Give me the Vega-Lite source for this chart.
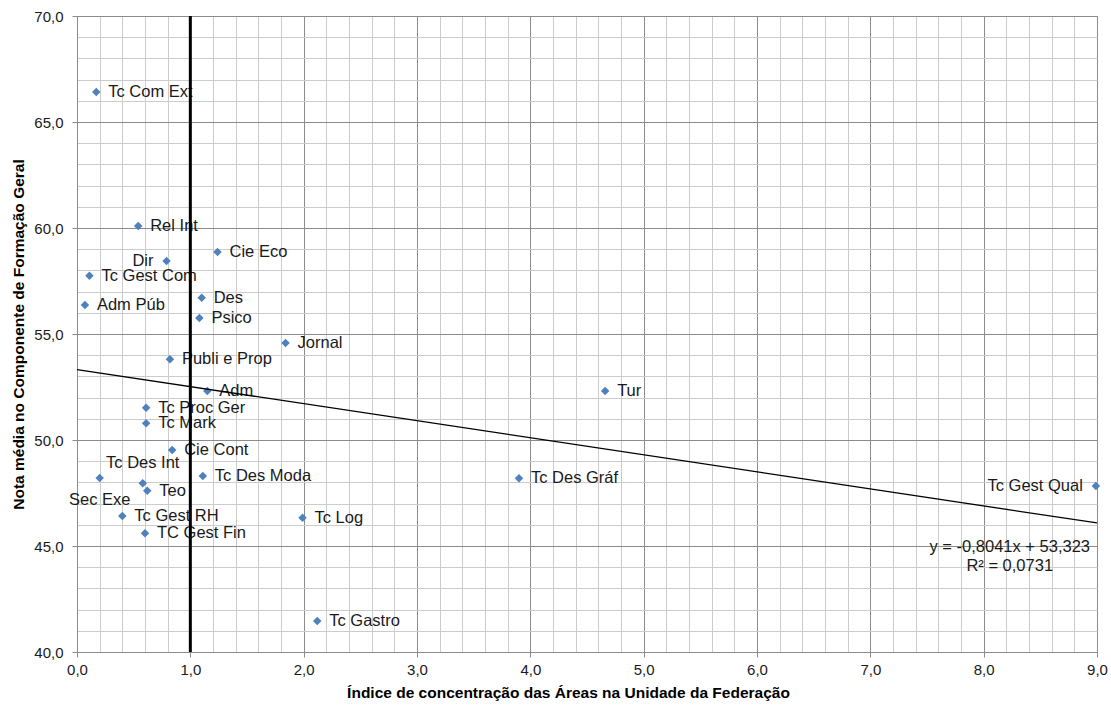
{
  "$schema": "https://vega.github.io/schema/vega-lite/v6.json",
  "width": 1020,
  "height": 636,
  "autosize": "none",
  "padding": {"left": 77, "top": 16, "right": 14, "bottom": 54},
  "background": "white",
  "config": {
    "view": {"stroke": "#8c8c8c"},
    "font": "Liberation Sans"
  },
  "datasets": {
    "pontos": [
      {"area": "Tc Com Ext", "indice": 0.17, "nota": 66.42},
      {"area": "Rel Int", "indice": 0.54, "nota": 60.09},
      {"area": "Cie Eco", "indice": 1.24, "nota": 58.87},
      {"area": "Dir", "indice": 0.79, "nota": 58.44},
      {"area": "Tc Gest Com", "indice": 0.11, "nota": 57.75},
      {"area": "Adm Púb", "indice": 0.07, "nota": 56.37},
      {"area": "Des", "indice": 1.10, "nota": 56.71},
      {"area": "Psico", "indice": 1.08, "nota": 55.75},
      {"area": "Jornal", "indice": 1.84, "nota": 54.58},
      {"area": "Publi e Prop", "indice": 0.82, "nota": 53.81},
      {"area": "Adm", "indice": 1.15, "nota": 52.31},
      {"area": "Tur", "indice": 4.66, "nota": 52.31},
      {"area": "Tc Proc Ger", "indice": 0.61, "nota": 51.52},
      {"area": "Tc Mark", "indice": 0.61, "nota": 50.79},
      {"area": "Cie Cont", "indice": 0.84, "nota": 49.53},
      {"area": "Sec Exe", "indice": 0.20, "nota": 48.21},
      {"area": "Tc Des Int", "indice": 0.58, "nota": 47.96},
      {"area": "Teo", "indice": 0.62, "nota": 47.61},
      {"area": "Tc Des Moda", "indice": 1.11, "nota": 48.30},
      {"area": "Tc Des Gráf", "indice": 3.90, "nota": 48.20},
      {"area": "Tc Gest Qual", "indice": 8.99, "nota": 47.83},
      {"area": "Tc Gest RH", "indice": 0.40, "nota": 46.42},
      {"area": "Tc Log", "indice": 1.99, "nota": 46.33},
      {"area": "TC Gest Fin", "indice": 0.60, "nota": 45.60},
      {"area": "Tc Gastro", "indice": 2.12, "nota": 41.46}
    ],
    "tendencia": [
      {"indice": 0, "nota": 53.323},
      {"indice": 9, "nota": 46.086}
    ],
    "referencia": [
      {"indice": 1, "nota": 40},
      {"indice": 1, "nota": 70}
    ],
    "equacao": [
      {"rotulo": "y = -0,8041x + 53,323", "indice": 8.23, "nota": 44.97},
      {"rotulo": "R² = 0,0731", "indice": 8.23, "nota": 44.06}
    ]
  },
  "encoding": {
    "x": {
      "field": "indice",
      "type": "quantitative",
      "scale": {"domain": [0, 9], "nice": false, "zero": false},
      "axis": {
        "title": "Índice de concentração das Áreas na Unidade da Federação",
        "values": [0, 0.2, 0.4, 0.6, 0.8, 1, 1.2, 1.4, 1.6, 1.8, 2, 2.2, 2.4, 2.6, 2.8, 3, 3.2, 3.4, 3.6, 3.8, 4, 4.2, 4.4, 4.6, 4.8, 5, 5.2, 5.4, 5.6, 5.8, 6, 6.2, 6.4, 6.6, 6.8, 7, 7.2, 7.4, 7.6, 7.8, 8, 8.2, 8.4, 8.6, 8.8, 9],
        "labelExpr": "abs(datum.value - round(datum.value)) < 0.001 ? replace(format(datum.value, '.1f'), '.', ',') : ''",
        "gridColor": {"condition": {"test": "abs(datum.value - round(datum.value)) < 0.001", "value": "#8c8c8c"}, "value": "#cccccc"},
        "tickColor": {"condition": {"test": "abs(datum.value - round(datum.value)) < 0.001", "value": "#8c8c8c"}, "value": "transparent"},
        "gridWidth": 1,
        "tickSize": 5,
        "domainColor": "#8c8c8c",
        "labelFontSize": 15,
        "labelColor": "#1a1a1a",
        "labelPadding": 5,
        "labelOverlap": false,
        "labelFlush": false,
        "titleFontSize": 15.5,
        "titleFontWeight": "bold",
        "titleColor": "#000000",
        "titlePadding": 8,
        "titleX": 491
      }
    },
    "y": {
      "field": "nota",
      "type": "quantitative",
      "scale": {"domain": [40, 70], "nice": false, "zero": false},
      "axis": {
        "title": "Nota média no Componente de Formação Geral",
        "values": [40, 41, 42, 43, 44, 45, 46, 47, 48, 49, 50, 51, 52, 53, 54, 55, 56, 57, 58, 59, 60, 61, 62, 63, 64, 65, 66, 67, 68, 69, 70],
        "labelExpr": "datum.value % 5 == 0 ? replace(format(datum.value, '.1f'), '.', ',') : ''",
        "gridColor": {"condition": {"test": "datum.value % 5 == 0", "value": "#8c8c8c"}, "value": "#cccccc"},
        "tickColor": {"condition": {"test": "datum.value % 5 == 0", "value": "#8c8c8c"}, "value": "transparent"},
        "gridWidth": 1,
        "tickSize": 5,
        "domainColor": "#8c8c8c",
        "labelFontSize": 15,
        "labelColor": "#1a1a1a",
        "labelPadding": 9,
        "labelOverlap": false,
        "labelFlush": false,
        "titleFontSize": 15.5,
        "titleFontWeight": "bold",
        "titleColor": "#000000",
        "titleX": -59,
        "titleY": 318,
        "titleAngle": 270,
        "titleAlign": "center",
        "titleBaseline": "middle"
      }
    }
  },
  "layer": [
    {
      "data": {"name": "pontos"},
      "mark": {"type": "point", "shape": "diamond", "filled": true, "size": 72, "color": "#4f81bd", "opacity": 1}
    },
    {
      "data": {"name": "pontos"},
      "transform": [{"filter": {"not": {"field": "area", "oneOf": ["Dir", "Tc Gest Qual", "Tc Des Int", "Sec Exe"]}}}],
      "mark": {"type": "text", "align": "left", "baseline": "middle", "dx": 12, "fontSize": 16.5, "color": "#1a1a1a"},
      "encoding": {"text": {"field": "area"}}
    },
    {
      "data": {"name": "pontos"},
      "transform": [{"filter": {"field": "area", "oneOf": ["Dir", "Tc Gest Qual"]}}],
      "mark": {"type": "text", "align": "right", "baseline": "middle", "dx": -13, "fontSize": 16.5, "color": "#1a1a1a"},
      "encoding": {"text": {"field": "area"}}
    },
    {
      "data": {"name": "pontos"},
      "transform": [{"filter": {"field": "area", "equal": "Tc Des Int"}}],
      "mark": {"type": "text", "align": "center", "baseline": "middle", "dy": -20, "fontSize": 16.5, "color": "#1a1a1a"},
      "encoding": {"text": {"field": "area"}}
    },
    {
      "data": {"name": "pontos"},
      "transform": [{"filter": {"field": "area", "equal": "Sec Exe"}}],
      "mark": {"type": "text", "align": "center", "baseline": "middle", "dy": 22, "fontSize": 16.5, "color": "#1a1a1a"},
      "encoding": {"text": {"field": "area"}}
    },
    {
      "data": {"name": "equacao"},
      "mark": {"type": "text", "align": "center", "baseline": "middle", "fontSize": 16.5, "color": "#1a1a1a"},
      "encoding": {"text": {"field": "rotulo"}}
    },
    {
      "data": {"name": "tendencia"},
      "mark": {"type": "line", "color": "#000000", "strokeWidth": 1.3},
      "encoding": {}
    },
    {
      "data": {"name": "referencia"},
      "mark": {"type": "line", "color": "#000000", "strokeWidth": 3},
      "encoding": {}
    }
  ]
}
